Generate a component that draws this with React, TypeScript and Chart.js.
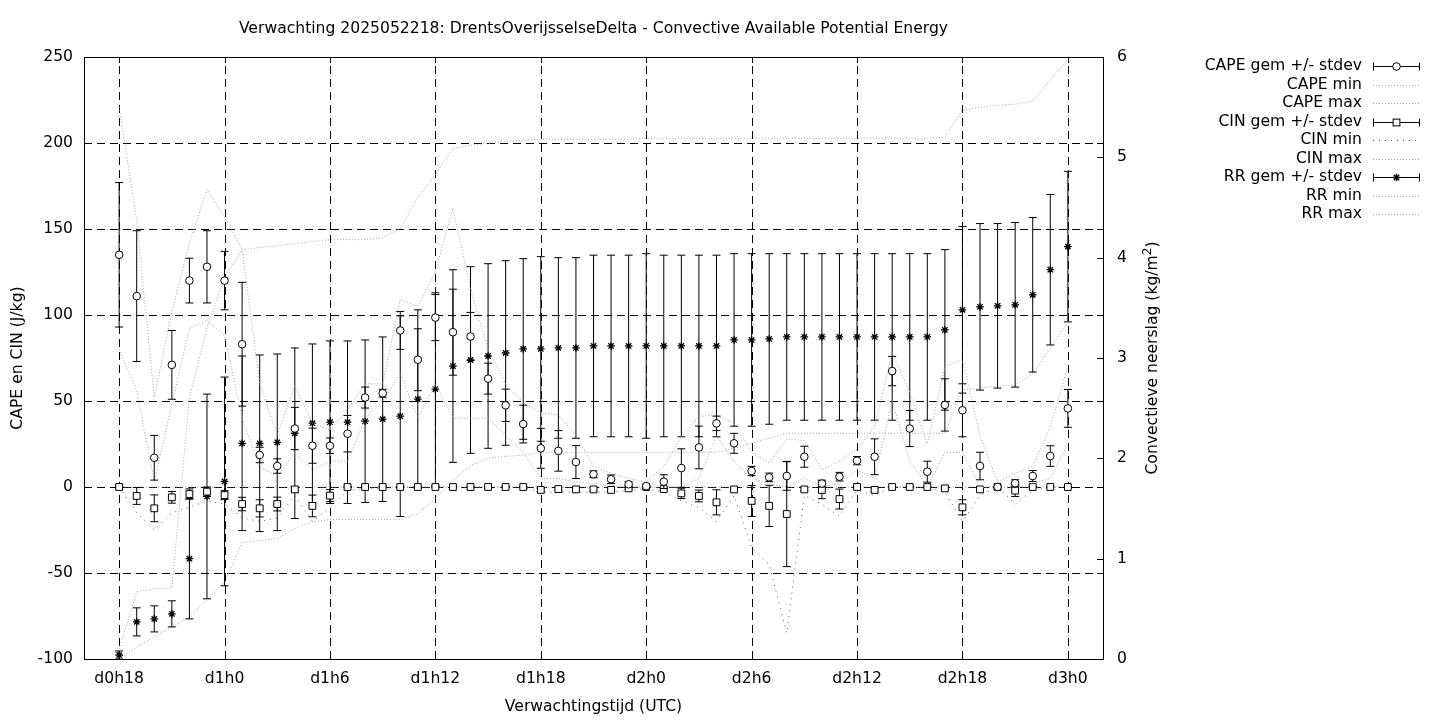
import React, { useEffect, useRef } from "react";
import { Chart, registerables } from "chart.js";

Chart.register(...registerables);

const FONT = "'DejaVu Sans', sans-serif";
const FS = 15.6;

const chartTitle = "Verwachting 2025052218: DrentsOverijsselseDelta - Convective Available Potential Energy";
const xTitle = "Verwachtingstijd (UTC)";
const yTitle = "CAPE en CIN (J/kg)";

const hours = [18, 19, 20, 21, 22, 23, 24, 25, 26, 27, 28, 29, 30, 31, 32, 33, 34, 35, 36, 37, 38, 39, 40, 41, 42, 43, 44, 45, 46, 47, 48, 49, 50, 51, 52, 53, 54, 55, 56, 57, 58, 59, 60, 61, 62, 63, 64, 65, 66, 67, 68, 69, 70, 71, 72];
const xTickHours = [18, 24, 30, 36, 42, 48, 54, 60, 66, 72];
const xTickLabels = ["d0h18", "d1h0", "d1h6", "d1h12", "d1h18", "d2h0", "d2h6", "d2h12", "d2h18", "d3h0"];
const yTicks = [-100, -50, 0, 50, 100, 150, 200, 250];
const y2Ticks = [0, 1, 2, 3, 4, 5, 6];

const capeMean = [135, 111, 17, 71, 120, 128, 120, 83, 18.6, 12.2,
  34, 24, 24, 31, 52, 54.5, 91, 74, 98.5, 90,
  87.5, 63, 47.5, 36.6, 22.5, 21, 14.5, 7.4, 4.5, 1.6,
  0.5, 3.1, 11, 23, 37, 25.4, 9.3, 5.6, 6.4, 17.6,
  2, 6, 15.3, 17.6, 67.4, 34, 8.9, 47.7, 44.6, 12.2,
  0, 2.2, 6.4, 18, 45.7];
const capeSd = [42, 38, 13, 20, 13, 21, 17, 36, 4.5, 4.2,
  12.3, 10.2, 4.5, 10.6, 6.1, 2.3, 11, 18, 13.4, 25,
  14, 9, 9.4, 11, 11.6, 11.8, 9.6, 2, 2.5, 1.5,
  0.5, 4, 11.2, 12.4, 4.2, 5.8, 2.7, 2.5, 8.3, 6.1,
  2, 2.5, 2.4, 10.4, 8.5, 10.5, 6.1, 15.2, 15.4, 8,
  0.3, 2, 3.2, 6, 11];
const capeMin = [80, 56, 3, 48, 92, 97, 88, 40, 12, 6,
  20, 10, 15, 15, 40, 50, 66, 40, 60, 40,
  40, 40, 30, 20, 5, 5, 3, 2, 1, 0,
  0, 0, 0, 5, 30, 15, 5, 2, 0, 5,
  0, 2, 10, 5, 50, 15, 0, 20, 20, 0,
  0, 0, 2, 5, 25];
const capeMax = [221, 155, 52, 102, 142, 173, 157, 138, 60, 30,
  59, 37, 33, 45, 60, 60, 109, 105, 125, 162,
  115, 80, 60, 49, 43, 42, 30, 12, 8, 5,
  3, 12, 29, 41, 42, 37, 20, 14, 28, 27,
  10, 15, 22, 35, 78, 55, 25, 70, 74, 30,
  3, 8, 12, 35, 70];

const cinMean = [0, -5.2, -12.4, -6, -4.1, -2.7, -4.7, -9.9, -12.4, -9.9,
  -1.4, -11, -5, 0, 0, 0, 0, 0, 0, 0,
  0, 0, 0, 0, -1.7, -1.2, -1.4, -1.4, -1.7, -0.8,
  0, -1.2, -3.7, -5.2, -8.9, -1.4, -8.1, -11, -15.7, -1.4,
  -1.7, -7, 0, -1.7, 0, 0, 0, -0.8, -11.8, -1.4,
  0, -2.1, 0, 0, 0];
const cinSd = [0, 4.9, 7.8, 3.4, 3, 2.7, 2.6, 3.9, 5, 4,
  1.5, 6.3, 3.5, 0.3, 0.3, 0.3, 0.3, 0.3, 0.3, 0.3,
  0.3, 0.3, 0.3, 0.3, 1, 1, 1, 1, 1, 0.5,
  0, 1, 3, 3.4, 7.3, 1, 9, 12, 30.6, 1,
  5.1, 5.8, 0.3, 1, 0.3, 0.3, 0.3, 0.5, 4.4, 1,
  0, 3.4, 0.3, 0.3, 0.3];
const cinMin = [0, -15, -25, -15, -12, -8, -10, -18, -20, -18,
  -5, -20, -12, -2, -1, -1, 0, 0, 0, 0,
  0, 0, 0, 0, -3, -3, -3, -3, -3, -2,
  -1, -3, -8, -12, -20, -5, -35, -45, -85, -5,
  -10, -17, -2, -5, 0, 0, 0, -3, -20, -5,
  0, -10, -2, 0, 0];
const cinMax = [0, 0, 0, 0, 0, 0, 0, 0, 0, 0,
  0, 0, 0, 0, 0, 0, 0, 0, 0, 0,
  0, 0, 0, 0, 0, 0, 0, 0, 0, 0,
  0, 0, 0, 0, 0, 0, 0, 0, 0, 0,
  0, 0, 0, 0, 0, 0, 0, 0, 0, 0,
  0, 0, 0, 0, 0];

const rrMean = [0.04, 0.37, 0.40, 0.45, 1.0, 1.62, 1.77, 2.15, 2.15, 2.16,
  2.25, 2.35, 2.36, 2.36, 2.37, 2.39, 2.42, 2.59, 2.69, 2.92,
  2.98, 3.02, 3.05, 3.09, 3.09, 3.10, 3.10, 3.12, 3.12, 3.12,
  3.12, 3.12, 3.12, 3.12, 3.12, 3.18, 3.18, 3.19, 3.21, 3.21,
  3.21, 3.21, 3.21, 3.21, 3.21, 3.21, 3.21, 3.28, 3.48, 3.51,
  3.52, 3.53, 3.63, 3.88, 4.11];
const rrSd = [0.04, 0.14, 0.13, 0.13, 0.6, 1.02, 1.04, 0.87, 0.88, 0.88,
  0.85, 0.79, 0.81, 0.81, 0.81, 0.82, 1.0, 0.89, 0.96, 0.96,
  0.93, 0.92, 0.92, 0.90, 0.92, 0.90, 0.90, 0.905, 0.905, 0.905,
  0.92, 0.905, 0.905, 0.905, 0.905, 0.86, 0.86, 0.85, 0.83, 0.83,
  0.83, 0.83, 0.83, 0.83, 0.83, 0.83, 0.83, 0.80, 0.83, 0.83,
  0.82, 0.82, 0.77, 0.75, 0.75];
const rrMin = [0, 0.12, 0.22, 0.32, 0.42, 0.59, 0.76, 1.16, 1.18, 1.2,
  1.3, 1.37, 1.39, 1.39, 1.39, 1.39, 1.39, 1.45, 1.6, 1.78,
  1.93, 2.0, 2.02, 2.03, 2.06, 2.06, 2.06, 2.06, 2.06, 2.06,
  2.06, 2.06, 2.06, 2.06, 2.06, 2.1, 2.15, 2.2, 2.25, 2.25,
  2.25, 2.25, 2.25, 2.25, 2.25, 2.25, 2.25, 2.25, 2.68, 2.7,
  2.72, 2.73, 2.84, 3.1, 3.36];
const rrMax = [0.1, 0.67, 0.7, 0.71, 2.6, 3.3, 3.8, 4.08, 4.1, 4.12,
  4.14, 4.16, 4.18, 4.18, 4.18, 4.2, 4.29, 4.6, 4.83, 5.09,
  5.12, 5.14, 5.16, 5.17, 5.18, 5.18, 5.18, 5.18, 5.18, 5.18,
  5.19, 5.19, 5.19, 5.19, 5.19, 5.19, 5.19, 5.19, 5.19, 5.19,
  5.19, 5.19, 5.19, 5.19, 5.19, 5.19, 5.19, 5.2, 5.47, 5.5,
  5.52, 5.53, 5.56, 5.77, 5.98];

const legendLabels = ["CAPE gem +/- stdev", "CAPE min", "CAPE max", "CIN gem +/- stdev", "CIN min", "CIN max", "RR gem +/- stdev", "RR min", "RR max"];

const LIGHT = "#a8a8a8";
const DARK = "#606060";
const LIGHT_DASH = [1, 2];
const DARK_DASH = [1, 5];

function pts(vals: number[]) {
  return hours.map((h, i) => ({ x: h, y: vals[i] }));
}

function meanSet(label: string, vals: number[], sd: number[], style: string, radius: number, axis: string) {
  return {
    label,
    data: pts(vals),
    errSd: sd,
    yAxisID: axis,
    showLine: false,
    pointStyle: style,
    pointRadius: radius,
    pointBorderWidth: style === "star" ? 1.3 : 1,
    pointBorderColor: "#000",
    pointBackgroundColor: style === "star" ? "#000" : "#fff",
    borderColor: "#000",
    backgroundColor: "#fff",
  } as any;
}

function lineSet(label: string, vals: number[], axis: string, color: string, dash: number[]) {
  return {
    label,
    data: pts(vals),
    yAxisID: axis,
    showLine: true,
    pointRadius: 0,
    borderWidth: 1,
    borderColor: color,
    borderDash: dash,
    tension: 0,
    fill: false,
  } as any;
}

const gnuplotPlugin = {
  id: "gnuplotLook",
  beforeDatasetsDraw(chart: any) {
    const { ctx, chartArea: a, scales } = chart;
    ctx.save();
    ctx.strokeStyle = "#000";
    ctx.lineWidth = 1;
    ctx.setLineDash([8, 5]);
    ctx.beginPath();
    xTickHours.forEach((h) => {
      const x = Math.round(scales.x.getPixelForValue(h)) + 0.5;
      ctx.moveTo(x, a.bottom);
      ctx.lineTo(x, a.top);
    });
    yTicks.forEach((v) => {
      const y = Math.round(scales.y.getPixelForValue(v)) + 0.5;
      ctx.moveTo(a.left, y);
      ctx.lineTo(a.right, y);
    });
    ctx.stroke();
    ctx.restore();
  },
  beforeDatasetDraw(chart: any, args: any) {
    const ds = chart.data.datasets[args.index];
    if (!ds.errSd) return;
    const { ctx, chartArea: a } = chart;
    const xs = chart.scales.x;
    const ys = chart.scales[ds.yAxisID];
    ctx.save();
    ctx.beginPath();
    ctx.rect(a.left, a.top, a.right - a.left, a.bottom - a.top);
    ctx.clip();
    ctx.strokeStyle = "#000";
    ctx.lineWidth = 1;
    ctx.beginPath();
    ds.data.forEach((p: any, i: number) => {
      const x = xs.getPixelForValue(p.x);
      const yt = ys.getPixelForValue(p.y + ds.errSd[i]);
      const yb = ys.getPixelForValue(p.y - ds.errSd[i]);
      ctx.moveTo(x, yt);
      ctx.lineTo(x, yb);
      ctx.moveTo(x - 4, yt);
      ctx.lineTo(x + 4, yt);
      ctx.moveTo(x - 4, yb);
      ctx.lineTo(x + 4, yb);
    });
    ctx.stroke();
    ctx.restore();
  },
  afterDraw(chart: any) {
    const { ctx, chartArea: a, scales } = chart;
    ctx.save();
    ctx.strokeStyle = "#000";
    ctx.lineWidth = 1;
    ctx.setLineDash([]);
    ctx.strokeRect(Math.round(a.left) + 0.5, Math.round(a.top) + 0.5, Math.round(a.right - a.left), Math.round(a.bottom - a.top));
    ctx.beginPath();
    const TL = 6;
    xTickHours.forEach((h) => {
      const x = Math.round(scales.x.getPixelForValue(h)) + 0.5;
      ctx.moveTo(x, a.bottom); ctx.lineTo(x, a.bottom - TL);
      ctx.moveTo(x, a.top); ctx.lineTo(x, a.top + TL);
    });
    yTicks.forEach((v) => {
      const y = Math.round(scales.y.getPixelForValue(v)) + 0.5;
      ctx.moveTo(a.left, y); ctx.lineTo(a.left + TL, y);
      ctx.moveTo(a.right, y); ctx.lineTo(a.right - TL, y);
    });
    y2Ticks.forEach((v) => {
      const y = Math.round(scales.y2.getPixelForValue(v)) + 0.5;
      ctx.moveTo(a.right, y); ctx.lineTo(a.right - TL, y);
    });
    ctx.stroke();

    ctx.fillStyle = "#000";
    ctx.font = `${FS}px ${FONT}`;
    ctx.textAlign = "center";
    ctx.textBaseline = "middle";
    const cx = (a.left + a.right) / 2;
    ctx.fillText(chartTitle, cx, 29);
    ctx.fillText(xTitle, cx, 707);
    const cy = (a.top + a.bottom) / 2;
    ctx.save();
    ctx.translate(18, cy);
    ctx.rotate(-Math.PI / 2);
    ctx.fillText(yTitle, 0, 0);
    ctx.restore();
    ctx.save();
    ctx.translate(1153, cy);
    ctx.rotate(-Math.PI / 2);
    const p1 = "Convectieve neerslag (kg/m";
    const p2 = "2";
    const p3 = ")";
    const small = `${Math.round(FS * 0.75)}px ${FONT}`;
    ctx.font = `${FS}px ${FONT}`;
    const w1 = ctx.measureText(p1).width;
    const w3 = ctx.measureText(p3).width;
    ctx.font = small;
    const w2 = ctx.measureText(p2).width;
    const total = w1 + w2 + w3;
    ctx.textAlign = "left";
    let sx = -total / 2;
    ctx.font = `${FS}px ${FONT}`;
    ctx.fillText(p1, sx, 0);
    sx += w1;
    ctx.font = small;
    ctx.fillText(p2, sx, -5);
    sx += w2;
    ctx.font = `${FS}px ${FONT}`;
    ctx.fillText(p3, sx, 0);
    ctx.restore();

    const lx1 = 1373, lx2 = 1420, textR = 1362;
    chart.data.datasets.forEach((ds: any, i: number) => {
      const y = 66 + i * 18.5;
      ctx.fillStyle = "#000";
      ctx.font = `${FS}px ${FONT}`;
      ctx.textAlign = "right";
      ctx.textBaseline = "middle";
      ctx.fillText(legendLabels[i], textR, y);
      const yy = Math.round(y) + 0.5;
      if (ds.errSd) {
        ctx.strokeStyle = "#000";
        ctx.lineWidth = 1;
        ctx.setLineDash([]);
        ctx.beginPath();
        ctx.moveTo(lx1, yy); ctx.lineTo(lx2, yy);
        ctx.moveTo(lx1 + 0.5, yy - 4); ctx.lineTo(lx1 + 0.5, yy + 4);
        ctx.moveTo(lx2 - 0.5, yy - 4); ctx.lineTo(lx2 - 0.5, yy + 4);
        ctx.stroke();
        const mx = (lx1 + lx2) / 2;
        ctx.fillStyle = ds.pointBackgroundColor;
        ctx.strokeStyle = "#000";
        if (ds.pointStyle === "circle") {
          ctx.beginPath(); ctx.arc(mx, yy, ds.pointRadius, 0, Math.PI * 2); ctx.fill(); ctx.stroke();
        } else if (ds.pointStyle === "rect") {
          const s = ds.pointRadius / Math.SQRT2;
          ctx.fillRect(mx - s, yy - s, 2 * s, 2 * s);
          ctx.strokeRect(mx - s, yy - s, 2 * s, 2 * s);
        } else {
          const r = ds.pointRadius;
          ctx.lineWidth = 1.3;
          ctx.beginPath();
          ctx.moveTo(mx - r, yy); ctx.lineTo(mx + r, yy);
          ctx.moveTo(mx, yy - r); ctx.lineTo(mx, yy + r);
          const d = r * Math.SQRT1_2;
          ctx.moveTo(mx - d, yy - d); ctx.lineTo(mx + d, yy + d);
          ctx.moveTo(mx - d, yy + d); ctx.lineTo(mx + d, yy - d);
          ctx.stroke();
          ctx.lineWidth = 1;
        }
      } else {
        ctx.strokeStyle = ds.borderColor;
        ctx.lineWidth = 1;
        ctx.setLineDash(ds.borderDash);
        ctx.beginPath();
        ctx.moveTo(lx1, yy); ctx.lineTo(lx2, yy);
        ctx.stroke();
        ctx.setLineDash([]);
      }
    });
    ctx.restore();
  },
};

export default function App() {
  const ref = useRef<HTMLCanvasElement | null>(null);
  useEffect(() => {
    if (!ref.current) return;
    const tickFont = { family: FONT, size: FS };
    const chart = new Chart(ref.current, {
      type: "line",
      data: {
        datasets: [
          meanSet("CAPE gem +/- stdev", capeMean, capeSd, "circle", 3.8, "y"),
          lineSet("CAPE min", capeMin, "y", LIGHT, LIGHT_DASH),
          lineSet("CAPE max", capeMax, "y", LIGHT, LIGHT_DASH),
          meanSet("CIN gem +/- stdev", cinMean, cinSd, "rect", 4.8, "y"),
          lineSet("CIN min", cinMin, "y", DARK, DARK_DASH),
          lineSet("CIN max", cinMax, "y", LIGHT, LIGHT_DASH),
          meanSet("RR gem +/- stdev", rrMean, rrSd, "star", 3.8, "y2"),
          lineSet("RR min", rrMin, "y2", LIGHT, LIGHT_DASH),
          lineSet("RR max", rrMax, "y2", LIGHT, LIGHT_DASH),
        ],
      },
      options: {
        responsive: false,
        animation: false,
        devicePixelRatio: 1,
        layout: { padding: { top: 57, left: 0, right: 0, bottom: 0 }, autoPadding: false },
        plugins: { legend: { display: false }, title: { display: false }, tooltip: { enabled: false } },
        scales: {
          x: {
            type: "linear",
            min: 16,
            max: 74,
            afterBuildTicks: (s: any) => { s.ticks = xTickHours.map((v) => ({ value: v })); },
            afterFit: (s: any) => { s.height = 61; },
            ticks: {
              autoSkip: false,
              maxRotation: 0,
              padding: 11,
              color: "#000",
              font: tickFont,
              callback: (v: any) => xTickLabels[xTickHours.indexOf(Number(v))] ?? "",
            },
            grid: { display: false, drawTicks: false, tickLength: 0 },
            border: { display: false },
          },
          y: {
            type: "linear",
            position: "left",
            min: -100,
            max: 250,
            afterBuildTicks: (s: any) => { s.ticks = yTicks.map((v) => ({ value: v })); },
            afterFit: (s: any) => { s.width = 84; },
            ticks: { padding: 11, color: "#000", font: tickFont, callback: (v: any) => String(v) },
            grid: { display: false, drawTicks: false, tickLength: 0 },
            border: { display: false },
          },
          y2: {
            type: "linear",
            position: "right",
            min: 0,
            max: 6,
            afterBuildTicks: (s: any) => { s.ticks = y2Ticks.map((v) => ({ value: v })); },
            afterFit: (s: any) => { s.width = 337; },
            ticks: { padding: 14, color: "#000", font: tickFont, callback: (v: any) => String(v) },
            grid: { display: false, drawTicks: false, tickLength: 0 },
            border: { display: false },
          },
        },
      } as any,
      plugins: [gnuplotPlugin as any],
    });
    return () => chart.destroy();
  }, []);
  return (
    <div style={{ position: "absolute", left: 0, top: 0, width: 1440, height: 720, background: "#fff" }}>
      <canvas ref={ref} width={1440} height={720} style={{ width: 1440, height: 720, display: "block" }} />
    </div>
  );
}
